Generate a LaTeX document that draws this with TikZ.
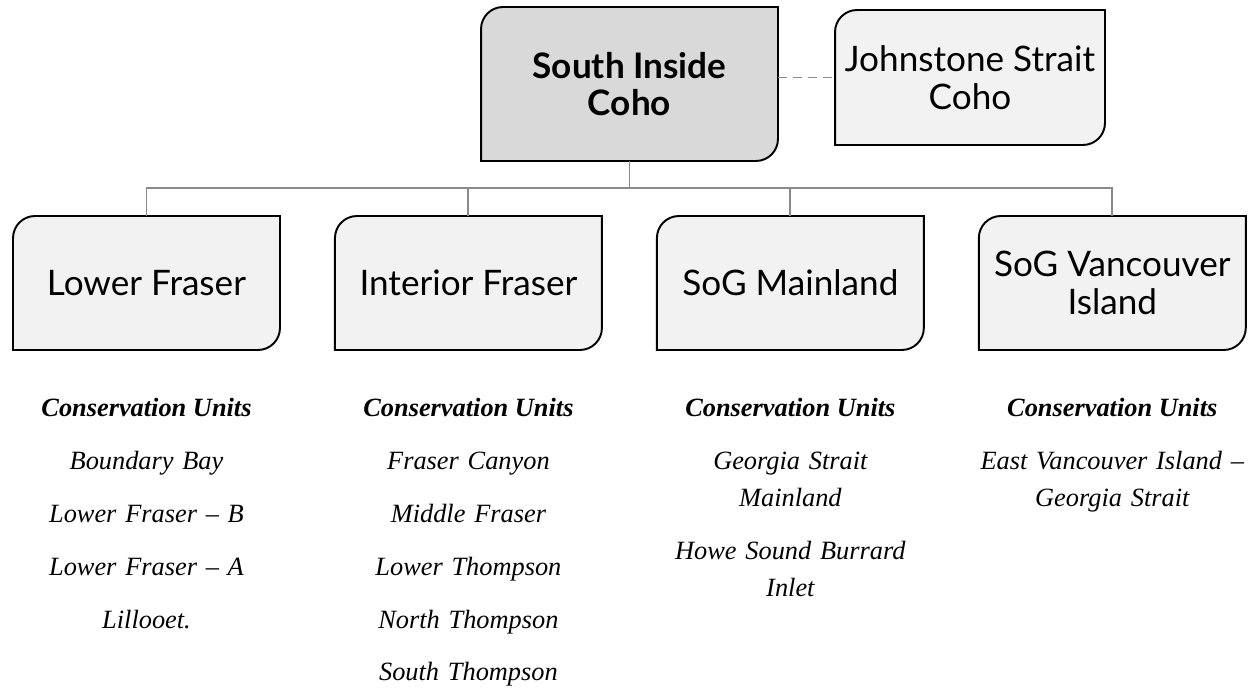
\documentclass[tikz,border=0pt]{standalone}
\usepackage{fontspec}
\setmainfont{Liberation Serif}
\newfontfamily\regionfont{Lato}
\definecolor{CohoGrey}{RGB}{217, 217, 217}
\definecolor{CohoLight}{RGB}{242, 242, 242}
\definecolor{CohoLine}{RGB}{138, 138, 138}
\usetikzlibrary{positioning, backgrounds}

\begin{document}
\begin{tikzpicture}[x=0.02cm, y=-0.02cm,
	region/.style={minimum width=5.34cm, minimum height=2.68cm, align=center, font=\regionfont\fontsize{20}{21.5}\selectfont, inner sep=2pt, outer sep=0pt},
	cu/.style={font=\fontsize{15}{21}\selectfont\bfseries\itshape, inner sep=0pt},
	units/.style={font=\fontsize{15}{21}\selectfont\itshape, text width=5.4cm, align=center, inner sep=0pt},
	conn/.style={draw=CohoLine, line width=1.1pt},
	node distance=1.1cm]
	\useasboundingbox (0,0) rectangle (1248,688);
	\node[region, minimum width=5.94cm, minimum height=3.08cm, font=\regionfont\bfseries\fontsize{20}{21}\selectfont] (sic) at (629.5,84) {South Inside\\Coho};
	\node[region, minimum width=5.4cm, minimum height=2.7cm] (jst) at (970,77.5) {Johnstone Strait\\Coho};
	\node[region] (lf) at (146.5,283) {Lower Fraser};
	\node[region, right=of lf] (intf) {Interior Fraser};
	\node[region, right=of intf] (sogm) {SoG Mainland};
	\node[region, right=of sogm] (sogvi) {SoG Vancouver\\Island};
	% boxes: rounded top left and bottom right only
	\begin{scope}[on background layer]
	\foreach \b/\c in {sic/CohoGrey, jst/CohoLight, lf/CohoLight, intf/CohoLight, sogm/CohoLight, sogvi/CohoLight}
		\draw[fill=\c, line width=1.1pt] (\b.south west) -- ([yshift=-0.44cm]\b.north west) arc[start angle=180, end angle=90, radius=0.44cm] -- (\b.north east) -- ([yshift=0.44cm]\b.south east) arc[start angle=0, end angle=-90, radius=0.44cm] -- cycle;
	\end{scope}
	\coordinate (bus) at (629.5,188);
	\draw[conn] (sic) -- (bus);
	\foreach \b in {lf, intf, sogm, sogvi} \draw[conn] (bus) -| (\b.north);
	\draw[conn, dash pattern=on 0.18cm off 0.12cm] (sic.east |- jst.west) -- (jst.west);
	% conservation units
	\node[cu, below=1.34cm of lf, anchor=base] (cu1) {Conservation Units};
	\node[cu, below=1.34cm of intf, anchor=base] (cu2) {Conservation Units};
	\node[cu, below=1.34cm of sogm, anchor=base] (cu3) {Conservation Units};
	\node[cu, below=1.34cm of sogvi, anchor=base] (cu4) {Conservation Units};
	\node[units, below=1.06cm of cu1.base, anchor=base] (lfu) {Boundary Bay\\[9pt]Lower Fraser – B\\[9pt]Lower Fraser – A\\[9pt]Lillooet.};
	\node[units, below=1.06cm of cu2.base, anchor=base] (intfu) {Fraser Canyon\\[9pt]Middle Fraser\\[9pt]Lower Thompson\\[9pt]North Thompson\\[9pt]South Thompson};
	\node[units, below=1.06cm of cu3.base, anchor=base] (sogmu) {Georgia Strait\\Mainland\\[9pt]Howe Sound Burrard\\Inlet};
	\node[units, below=1.06cm of cu4.base, anchor=base] (sogviu) {East Vancouver Island –\\Georgia Strait};
\end{tikzpicture}
\end{document}
